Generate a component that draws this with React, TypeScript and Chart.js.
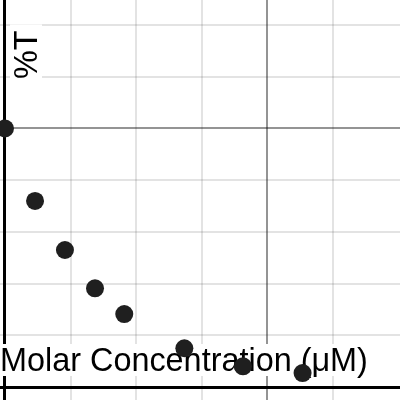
import { useEffect, useRef } from "react";
import { Chart, registerables } from "chart.js";

Chart.register(...registerables);

const concentration = [0, 2.29, 4.57, 6.86, 9.09, 13.67, 18.14, 22.68];
const transmittance = [50, 36.0, 26.5, 19.1, 14.1, 7.5, 4.0, 2.7];
const xGrid = [0, 5, 10, 15, 20, 25];
const yGrid = [0, 10, 20, 30, 40, 50, 60, 70];
const xMajor = [20];
const yMajor = [50];
const xTitle = "Molar Concentration (μM)";
const yTitle = "%T";

const FONT = '32.4px "Liberation Sans", Arial, sans-serif';

const labelPlugin = {
  id: "desmosLabels",
  beforeDatasetsDraw(chart: any) {
    const c = chart.ctx as CanvasRenderingContext2D;
    c.save();
    c.font = FONT;
    c.textBaseline = "alphabetic";
    c.textAlign = "left";
    // x-axis title
    const w = c.measureText(xTitle).width;
    c.fillStyle = "#ffffff";
    c.fillRect(0, 344, w + 4, 32);
    c.fillStyle = "#000000";
    c.fillText(xTitle, 0, 371);
    // y-axis title (rotated)
    c.translate(37, 79);
    c.rotate(-Math.PI / 2);
    const w2 = c.measureText(yTitle).width;
    c.fillStyle = "#ffffff";
    c.fillRect(-2, -27, w2 + 8, 32);
    c.fillStyle = "#000000";
    c.fillText(yTitle, 0, 0);
    c.restore();
  },
};

function gridColor(major: number[]) {
  return (ctx: any) => {
    const v = ctx.tick?.value;
    if (v === 0) return "#000000";
    if (major.includes(v)) return "rgba(0,0,0,0.42)";
    return "rgba(0,0,0,0.11)";
  };
}
function gridWidth(major: number[]) {
  return (ctx: any) => {
    const v = ctx.tick?.value;
    if (v === 0) return 3;
    return 2;
  };
}

export default function App() {
  const ref = useRef<HTMLCanvasElement>(null);
  useEffect(() => {
    if (!ref.current) return;
    const chart = new Chart(ref.current, {
      type: "scatter",
      data: {
        datasets: [
          {
            data: concentration.map((x, i) => ({ x, y: transmittance[i] })),
            backgroundColor: "#1f1f1f",
            borderWidth: 0,
            pointRadius: 9,
            pointHoverRadius: 9,
          },
        ],
      },
      options: {
        animation: false,
        responsive: false,
        layout: { padding: 0, autoPadding: false },
        plugins: { legend: { display: false }, tooltip: { enabled: false } },
        events: [],
        scales: {
          x: {
            type: "linear",
            min: -0.381,
            max: 30.107,
            afterBuildTicks: (scale: any) => {
              scale.ticks = xGrid.map((value) => ({ value }));
            },
            ticks: { display: false },
            border: { display: false },
            grid: { drawTicks: false, color: gridColor(xMajor), lineWidth: gridWidth(xMajor) },
          },
          y: {
            type: "linear",
            min: -2.51,
            max: 74.85,
            afterBuildTicks: (scale: any) => {
              scale.ticks = yGrid.map((value) => ({ value }));
            },
            ticks: { display: false },
            border: { display: false },
            grid: { drawTicks: false, color: gridColor(yMajor), lineWidth: gridWidth(yMajor) },
          },
        },
      },
      plugins: [labelPlugin],
    });
    return () => chart.destroy();
  }, []);
  return (
    <div style={{ position: "fixed", left: 0, top: 0, width: 400, height: 400, background: "#fff" }}>
      <canvas ref={ref} width={400} height={400} style={{ display: "block" }} />
    </div>
  );
}
